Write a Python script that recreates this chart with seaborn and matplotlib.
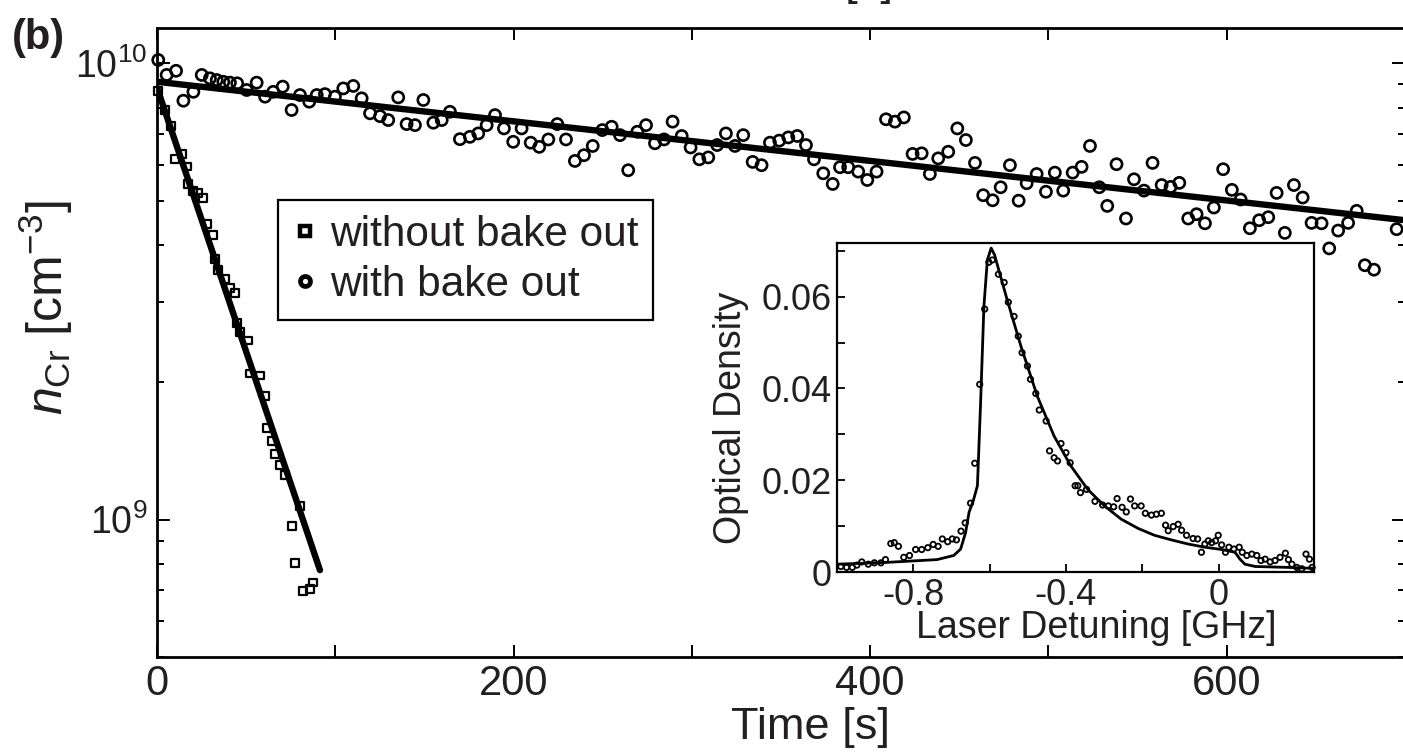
import numpy as np
import pandas as pd
import matplotlib
matplotlib.use("Agg")
import matplotlib.pyplot as plt
from matplotlib.lines import Line2D
import seaborn as sns

# ── data ──
# main panel: Cr density vs time (density in units of 1e9 cm^-3)
t_without = [0.7, 4.5, 7.7, 10.1, 13.8, 16.6, 17.6, 20.4, 23.2, 26.0, 27.9, 31.6,
             32.5, 34.4, 38.1, 40.9, 43.7, 44.7, 46.6, 51.2, 52.2, 57.8, 60.6, 61.5,
             64.3, 66.2, 69.0, 71.8, 75.5, 77.4, 80.2, 82.1, 85.8, 87.7]
n_without = [8.70, 7.89, 7.28, 6.16, 6.32, 5.94, 5.44, 5.25, 5.20, 5.07, 4.44, 4.20,
             3.72, 3.52, 3.37, 3.22, 3.14, 2.70, 2.58, 2.47, 2.09, 2.07, 1.87, 1.59,
             1.49, 1.39, 1.32, 1.25, 0.970, 0.803, 1.07, 0.697, 0.705, 0.728]

t_with = [0.7, 5.4, 10.7, 14.8, 20.4, 25.1, 29.7, 33.5, 37.2, 40.9, 45.0, 50.3,
          55.9, 60.6, 65.2, 70.5, 75.5, 80.2, 85.4, 89.6, 94.2, 99.8, 104.5, 110.1,
          114.8, 119.5, 125.1, 129.7, 135.3, 140.0, 144.7, 149.4, 155.0, 159.7, 164.3,
          169.9, 175.5, 180.2, 184.9, 189.6, 194.6, 199.8, 204.5, 209.6, 214.4, 219.5,
          224.5, 229.4, 234.4, 239.5, 244.4, 249.8, 255.0, 259.7, 264.3, 269.4, 274.3,
          279.3, 284.4, 289.2, 294.3, 299.3, 304.2, 309.2, 314.2, 319.1, 324.2, 328.8,
          334.1, 339.1, 343.8, 349.0, 354.1, 359.1, 364.0, 368.5, 373.7, 379.0, 383.1,
          387.7, 393.3, 398.4, 403.6, 408.9, 413.9, 418.9, 423.8, 428.9, 433.5, 438.2,
          443.8, 448.9, 453.7, 458.8, 463.4, 468.7, 473.2, 478.4, 483.3, 487.8, 493.4,
          498.6, 503.6, 508.3, 513.6, 518.6, 523.3, 528.5, 533.0, 538.2, 543.5, 548.0,
          553.6, 558.4, 563.5, 568.5, 573.4, 578.4, 583.1, 587.8, 592.8, 598.0, 602.9,
          607.8, 613.0, 618.2, 623.3, 628.0, 632.6, 637.7, 642.6, 647.6, 653.2, 657.5,
          662.5, 668.1, 672.9, 677.5, 682.6, 695.3]
n_with = [10.17, 9.43, 9.63, 8.28, 8.66, 9.43, 9.27, 9.19, 9.11, 9.07, 9.04, 8.74,
          9.07, 8.45, 8.66, 8.89, 7.90, 8.52, 8.24, 8.52, 8.56, 8.45, 8.81, 8.92,
          8.38, 7.77, 7.66, 7.51, 8.42, 7.36, 7.32, 8.31, 7.41, 7.51, 7.83,
          6.82, 6.90, 7.02, 7.32, 7.70, 7.20, 6.73, 7.20, 6.70, 6.56, 6.81,
          7.36, 6.81, 6.11, 6.29, 6.59, 7.14, 7.26, 6.96, 5.83, 7.08, 7.32,
          6.68, 6.81, 7.45, 6.93, 6.54, 6.16, 6.22, 6.62, 7.02, 6.59, 6.96,
          6.08, 5.98, 6.70, 6.77, 6.88, 6.93, 6.62, 6.16, 5.74, 5.44, 5.92,
          5.92, 5.79, 5.55, 5.79, 7.54, 7.45, 7.61, 6.33, 6.35, 5.72, 6.19,
          6.40, 7.20, 6.79, 6.05, 5.14, 5.01, 5.35, 5.98, 5.00, 5.46, 5.72,
          5.23, 5.76, 5.26, 5.76, 5.93, 6.59, 5.35, 4.87, 6.01, 4.57, 5.57,
          5.26, 6.05, 5.41, 5.36, 5.47, 4.57, 4.67, 4.46, 4.83, 5.86, 5.28,
          5.03, 4.35, 4.53, 4.60, 5.20, 4.25, 5.41, 5.08, 4.47, 4.46, 3.93,
          4.30, 4.47, 4.75, 3.61, 3.53, 4.33]

# exponential fits (straight on the log axis): end points
fit_t_without = [0.0, 91.4]
fit_n_without = [8.85, 0.775]
fit_t_with = [0.0, 700.0]
fit_n_with = [9.11, 4.53]

# inset: absorption spectrum
detuning = [-0.990, -0.975, -0.960, -0.948, -0.935, -0.918, -0.902, -0.885, -0.873, -0.859,
            -0.850, -0.839, -0.825, -0.810, -0.794, -0.778, -0.762, -0.748, -0.735, -0.724,
            -0.710, -0.698, -0.687, -0.675, -0.664, -0.650, -0.639, -0.626, -0.613, -0.602,
            -0.593, -0.577, -0.562, -0.551, -0.536, -0.525, -0.515, -0.501, -0.493, -0.479,
            -0.470, -0.452, -0.443, -0.431, -0.422, -0.413, -0.400, -0.389, -0.376, -0.369,
            -0.362, -0.346, -0.324, -0.304, -0.289, -0.275, -0.266, -0.253, -0.242, -0.231,
            -0.220, -0.203, -0.192, -0.176, -0.163, -0.150, -0.139, -0.132, -0.119, -0.106,
            -0.097, -0.084, -0.067, -0.055, -0.045, -0.036, -0.027, -0.018, -0.008, -0.001,
            0.008, 0.018, 0.027, 0.040, 0.054, 0.062, 0.074, 0.087, 0.100, 0.111,
            0.122, 0.135, 0.148, 0.161, 0.175, 0.183, 0.192, 0.205, 0.218, 0.229,
            0.238, 0.245]
od = [0.0012, 0.0010, 0.0010, 0.0015, 0.0022, 0.0017, 0.0020, 0.0020, 0.0027, 0.0062,
      0.0064, 0.0056, 0.0032, 0.0036, 0.0049, 0.0049, 0.0053, 0.0060, 0.0056, 0.0072,
      0.0066, 0.0072, 0.0070, 0.0089, 0.0107, 0.0150, 0.0237, 0.0409, 0.0573, 0.0675,
      0.0680, 0.0649, 0.0631, 0.0588, 0.0557, 0.0514, 0.0478, 0.0449, 0.0420, 0.0389,
      0.0353, 0.0329, 0.0264, 0.0249, 0.0242, 0.0280, 0.0260, 0.0238, 0.0188, 0.0188,
      0.0173, 0.0180, 0.0154, 0.0146, 0.0144, 0.0142, 0.0160, 0.0141, 0.0131, 0.0159,
      0.0144, 0.0144, 0.0128, 0.0124, 0.0126, 0.0128, 0.0102, 0.0090, 0.0099, 0.0104,
      0.0091, 0.0080, 0.0073, 0.0072, 0.0043, 0.0061, 0.0068, 0.0064, 0.0068, 0.0080,
      0.0059, 0.0043, 0.0054, 0.0050, 0.0054, 0.0043, 0.0036, 0.0039, 0.0036, 0.0025,
      0.0028, 0.0022, 0.0025, 0.0032, 0.0041, 0.0027, 0.0017, 0.0010, 0.0007, 0.0039,
      0.0028, 0.0010]
fit_detuning = [-1.0, -0.869, -0.738, -0.694, -0.676, -0.663, -0.654, -0.643, -0.632, -0.624,
                -0.615, -0.606, -0.596, -0.587, -0.575, -0.554, -0.518, -0.475, -0.431, -0.387,
                -0.343, -0.299, -0.255, -0.211, -0.168, -0.124, -0.080, -0.036, 0.008, 0.043,
                0.056, 0.069, 0.096, 0.183, 0.25]
fit_od = [0.0017, 0.0021, 0.0027, 0.0036, 0.0050, 0.0086, 0.0130, 0.0155, 0.0188, 0.0362,
          0.0579, 0.0680, 0.0706, 0.0691, 0.0655, 0.0593, 0.0492, 0.0383, 0.0296, 0.0231,
          0.0180, 0.0144, 0.0115, 0.0095, 0.0080, 0.0070, 0.0061, 0.0054, 0.0049, 0.0043,
          0.0028, 0.0017, 0.0012, 0.0010, 0.0008]

legend_labels = ["without bake out", "with bake out"]

TEXT = "#231f20"
W, H = 1403, 755

# ── style ──
sns.set_style("ticks")
plt.rcParams.update({
    "font.family": ["Liberation Sans", "DejaVu Sans"],
    "mathtext.fontset": "custom",
    "mathtext.rm": "Liberation Sans",
    "mathtext.it": "Liberation Sans:italic",
    "mathtext.default": "regular",
    "axes.unicode_minus": False,
    "text.color": TEXT,
    "axes.labelcolor": TEXT,
    "xtick.color": "black",
    "ytick.color": "black",
    "xtick.labelcolor": TEXT,
    "ytick.labelcolor": TEXT,
    "axes.edgecolor": "black",
})

fig = plt.figure(figsize=(W / 100, H / 100), dpi=100)

# ── main panel ──
ax = fig.add_axes([157 / W, (H - 657) / H, 1248 / W, 629 / H])
ax.set_yscale("log")

df_wo = pd.DataFrame({"t": t_without, "n": np.array(n_without) * 1e9})
df_w = pd.DataFrame({"t": t_with, "n": np.array(n_with) * 1e9})

sns.scatterplot(data=df_w, x="t", y="n", marker="o", s=64, facecolor="none",
                edgecolor="black", linewidth=1.9, ax=ax, clip_on=False, zorder=3)
sns.scatterplot(data=df_wo, x="t", y="n", marker="s", s=32, facecolor="none",
                edgecolor="black", linewidth=1.6, ax=ax, clip_on=False, zorder=3)
sns.lineplot(x=fit_t_with, y=np.array(fit_n_with) * 1e9, color="black", lw=4.6,
             estimator=None, ax=ax, zorder=4)
sns.lineplot(x=fit_t_without, y=np.array(fit_n_without) * 1e9, color="black", lw=4.6,
             estimator=None, ax=ax, zorder=4)

ax.set_xlim(0, 700)
ax.set_ylim(5.0e8, 1.195e10)
ax.set_xticks([0, 200, 400, 600])
ax.set_xticklabels(["0", "200", "400", "600"])
ax.set_xticks([100, 300, 500, 700], minor=True)
ax.tick_params(axis="x", which="both", direction="in", length=8.5, width=1.4,
               top=True, labelsize=30, pad=5)
ax.tick_params(axis="y", which="major", direction="in", length=9.5, width=1.4,
               right=True, labelsize=27, pad=7)
ax.tick_params(axis="y", which="minor", direction="in", length=5, width=1.4, right=True)
for sp in ax.spines.values():
    sp.set_linewidth(2.0)

ax.set_xlabel("Time [s]", fontsize=32.5)
ax.xaxis.set_label_coords(0.524, -0.080)
ax.set_ylabel(r"$\mathit{n}_{\mathrm{Cr}}$ [cm$^{-3}$]", fontsize=36)
ax.yaxis.set_label_coords(-0.066, 0.556)

handles = [
    Line2D([], [], ls="", marker="s", ms=6.8, mfc="white", mec="black", mew=3.2),
    Line2D([], [], ls="", marker="o", ms=7.2, mfc="white", mec="black", mew=3.4),
]
leg = ax.legend(handles, legend_labels, loc="upper left",
                bbox_to_anchor=(278 / W, 1 - 200 / H), bbox_transform=fig.transFigure,
                frameon=True, fancybox=False, edgecolor="black", fontsize=30.5,
                handlelength=0.58, handletextpad=0.3, borderpad=0.35,
                labelspacing=0.24, borderaxespad=0)
leg.get_frame().set_linewidth(1.6)
leg.get_frame().set_alpha(1)

# ── inset: spectrum ──
axin = fig.add_axes([837 / W, (H - 572) / H, 477 / W, 329 / H])
axin.set_facecolor("white")
sns.scatterplot(x=detuning, y=od, marker="o", s=15, facecolor="none",
                edgecolor="black", linewidth=1.3, ax=axin, clip_on=False, zorder=3)
sns.lineplot(x=fit_detuning, y=fit_od, color="black", lw=2.0, estimator=None,
             sort=False, ax=axin, zorder=4)
axin.set_xlim(-1.0, 0.25)
axin.set_ylim(0, 0.0717)
axin.set_xticks([-0.8, -0.4, 0])
axin.set_xticklabels(["-0.8", "-0.4", "0"])
axin.set_xticks([-0.6, -0.2], minor=True)
axin.set_yticks([0, 0.02, 0.04, 0.06])
axin.set_yticklabels(["0", "0.02", "0.04", "0.06"])
axin.set_yticks([0.01, 0.03, 0.05, 0.07], minor=True)
axin.tick_params(which="both", direction="in", length=6, width=1.3,
                 labelsize=26, pad=4)
for sp in axin.spines.values():
    sp.set_linewidth(1.6)
axin.set_xlabel("Laser Detuning [GHz]", fontsize=27)
axin.xaxis.set_label_coords(0.543, -0.115)
axin.set_ylabel("Optical Density", fontsize=27)
axin.yaxis.set_label_coords(-0.185, 0.468)

# panel tag and the clipped label of the panel above
fig.text(12 / W, 1 - 18 / H, "(b)", fontsize=30, fontweight="bold", va="top", ha="left")
fig.text(813.5 / W, 1 + 5 / H, "Time [s]", fontsize=32.5, ha="center", va="baseline")

fig.savefig("out.png", dpi=100)
